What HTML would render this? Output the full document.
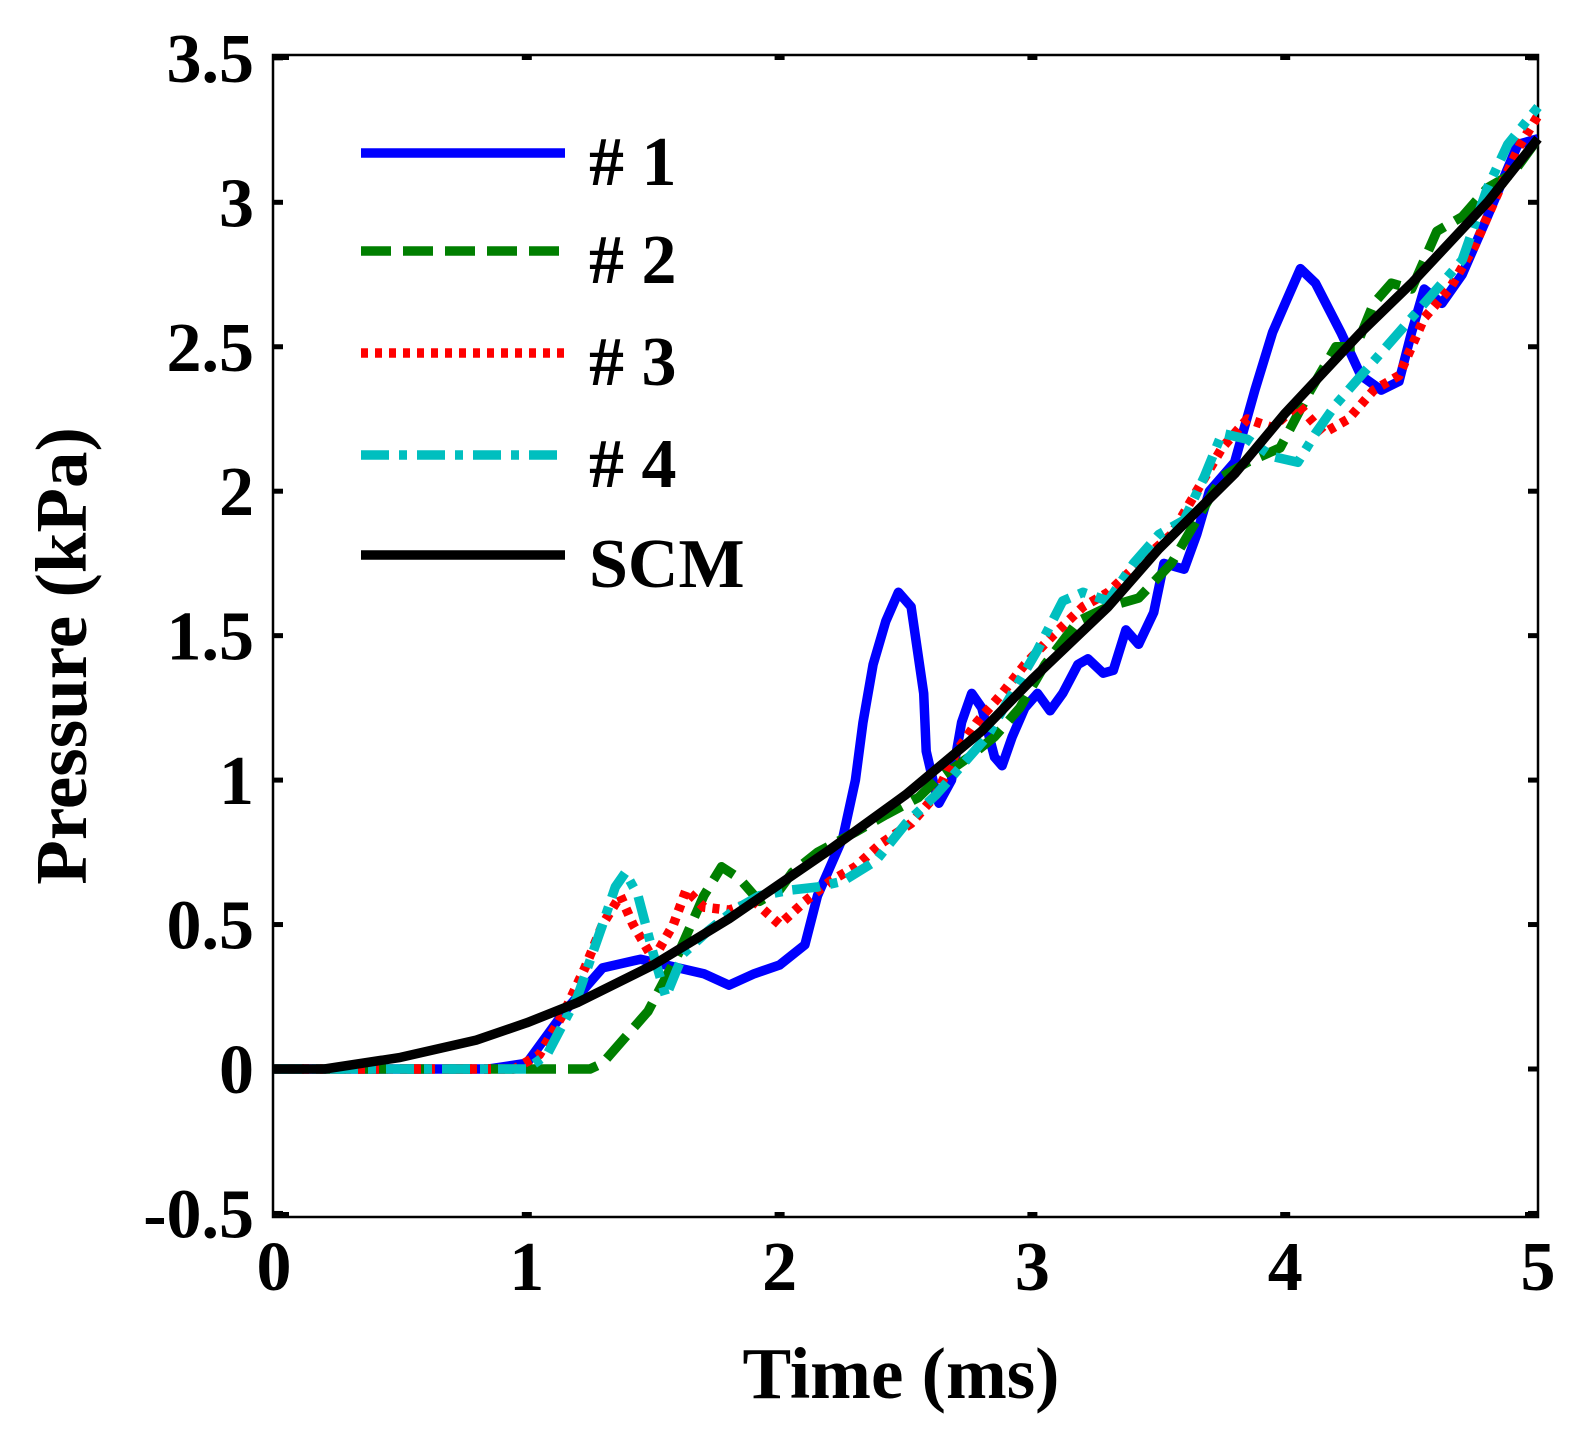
<!DOCTYPE html>
<html><head><meta charset="utf-8"><style>
body{margin:0;background:#fff;}
svg{display:block;font-family:"Liberation Serif",serif;font-weight:bold;}
</style></head><body>
<svg id="chart" width="1588" height="1441" viewBox="0 0 1588 1441" xmlns="http://www.w3.org/2000/svg">
<g id="grid"></g>
<g id="series"></g>
<g id="legend"></g>
</svg>
<script>
const xTicks=[0,1,2,3,4,5];
const yTicks=[-0.5,0,0.5,1,1.5,2,2.5,3,3.5];
const yTickLabels=["-0.5","0","0.5","1","1.5","2","2.5","3","3.5"];
const scmT=[0,0.2,0.5,0.8,1,1.2,1.5,1.8,2,2.2,2.5,2.8,3,3.3,3.5,3.8,4,4.3,4.5,4.8,5];
const scmP=[0,0,0.04,0.1,0.16,0.23,0.36,0.52,0.64,0.76,0.95,1.17,1.35,1.6,1.8,2.06,2.27,2.55,2.72,3.0,3.22];
const s1T=[0,0.85,1.0,1.15,1.3,1.45,1.55,1.7,1.8,1.9,2.0,2.1,2.15,2.25,2.3,2.33,2.37,2.42,2.47,2.52,2.57,2.58,2.62,2.63,2.68,2.72,2.76,2.8,2.85,2.88,2.92,2.97,3.02,3.07,3.12,3.18,3.22,3.28,3.32,3.37,3.42,3.48,3.52,3.6,3.65,3.7,3.8,3.88,3.95,4.0,4.06,4.12,4.22,4.3,4.38,4.45,4.5,4.55,4.62,4.7,4.8,4.92,5];
const s1P=[0,0,0.02,0.2,0.35,0.38,0.36,0.33,0.29,0.33,0.36,0.43,0.6,0.8,1.0,1.2,1.4,1.55,1.65,1.6,1.3,1.1,0.95,0.92,1.0,1.2,1.3,1.25,1.08,1.05,1.15,1.25,1.3,1.24,1.3,1.4,1.42,1.37,1.38,1.52,1.47,1.58,1.75,1.73,1.85,2.0,2.1,2.35,2.55,2.65,2.77,2.72,2.55,2.4,2.35,2.38,2.55,2.7,2.65,2.75,2.95,3.2,3.22];
const s2T=[0,1.25,1.3,1.48,1.6,1.7,1.77,1.84,1.92,2.0,2.05,2.15,2.3,2.42,2.55,2.62,2.75,2.85,2.95,3.05,3.18,3.3,3.42,3.55,3.65,3.75,3.85,3.98,4.1,4.2,4.28,4.35,4.42,4.5,4.6,4.7,4.8,4.9,5];
const s2P=[0,0,0.02,0.2,0.4,0.6,0.7,0.66,0.58,0.62,0.68,0.75,0.82,0.88,0.94,1.0,1.08,1.15,1.25,1.4,1.55,1.6,1.63,1.75,1.9,2.05,2.1,2.15,2.35,2.5,2.5,2.65,2.72,2.7,2.9,2.95,3.05,3.1,3.22];
const s3T=[0,0.95,1.05,1.15,1.23,1.3,1.37,1.42,1.5,1.58,1.63,1.7,1.8,1.9,2.0,2.1,2.2,2.3,2.4,2.52,2.62,2.7,2.78,2.88,2.97,3.08,3.2,3.3,3.42,3.55,3.65,3.75,3.85,3.95,4.05,4.15,4.25,4.35,4.45,4.55,4.65,4.75,4.85,4.93,5];
const s3P=[0,0,0.05,0.2,0.35,0.5,0.6,0.5,0.38,0.5,0.62,0.56,0.55,0.58,0.5,0.58,0.65,0.7,0.78,0.85,0.95,1.1,1.2,1.3,1.4,1.5,1.6,1.65,1.75,1.85,2.0,2.15,2.25,2.22,2.3,2.2,2.25,2.35,2.4,2.6,2.7,2.85,3.05,3.2,3.3];
const s4T=[0,1.0,1.08,1.2,1.3,1.35,1.39,1.44,1.5,1.55,1.62,1.72,1.82,1.92,2.05,2.15,2.25,2.38,2.5,2.62,2.72,2.82,2.92,3.02,3.12,3.2,3.3,3.4,3.5,3.6,3.68,3.75,3.85,3.95,4.05,4.12,4.2,4.3,4.4,4.5,4.6,4.7,4.8,4.88,5];
const s4P=[0,0,0.05,0.25,0.5,0.63,0.68,0.6,0.4,0.25,0.4,0.48,0.55,0.6,0.62,0.63,0.65,0.72,0.85,0.95,1.05,1.15,1.3,1.45,1.62,1.65,1.62,1.75,1.85,1.9,2.05,2.2,2.18,2.12,2.1,2.2,2.3,2.4,2.5,2.6,2.7,2.8,3.05,3.2,3.33];
const legendLabels=["# 1","# 2","# 3","# 4","SCM"];

const NS="http://www.w3.org/2000/svg";
const L=273,R=1538,T=55,B=1217;
const X=t=>274+t*(1538-274)/5;
const Y=p=>1069-p*288.9;
function mk(tag,parent,at){const e=document.createElementNS(NS,tag);for(const k in at)e.setAttribute(k,at[k]);parent.appendChild(e);return e;}
const grid=document.getElementById('grid'),ser=document.getElementById('series'),leg=document.getElementById('legend');
const frame=mk('rect',grid,{x:L,y:T,width:R-L,height:B-T,fill:'none',stroke:'#000','stroke-width':2.5});


xTicks.forEach(v=>{
  const x=X(v);
  const a=mk('rect',grid,{x:x-5+ (v===0?10:0) - (v===5?8:0),y:T,width:10,height:5,fill:'#000'});
  
  
  const b=mk('rect',grid,{x:x-5+(v===0?10:0)-(v===5?8:0),y:B-5,width:10,height:5,fill:'#000'});
  
  
  const t=mk('text',grid,{x:x,y:1290,'font-size':70,'text-anchor':'middle'});
  t.textContent=v;
  
  
});
yTicks.forEach((v,i)=>{
  const y=Y(v);
  const a=mk('rect',grid,{x:L,y:y-2.5,width:10,height:5,fill:'#000'});
  
  
  const b=mk('rect',grid,{x:R-10,y:y-2.5,width:10,height:5,fill:'#000'});
  
  
  const t=mk('text',grid,{x:254,y:y+24,'font-size':70,'text-anchor':'end'});
  t.textContent=yTickLabels[i];
  
  
});
const xl=mk('text',grid,{x:901,y:1398,'font-size':73,'text-anchor':'middle'});
xl.textContent='Time (ms)';


const yl=mk('text',grid,{x:0,y:0,'font-size':73,'text-anchor':'middle',transform:'translate(86,656) rotate(-90)'});
yl.textContent='Pressure (kPa)';



const styles=[
 {c:'#0000ff',d:'none'},
 {c:'#007f00',d:'30 12'},
 {c:'#ff0000',d:'7 7'},
 {c:'#00bfbf',d:'28 10 8 10'},
 {c:'#000000',d:'none'}];
const series=[[s1T,s1P],[s2T,s2P],[s3T,s3P],[s4T,s4P],[scmT,scmP]];
const names=['series-1','series-2','series-3','series-4','series-scm'];
series.forEach((s,i)=>{
  const d=s[0].map((t,j)=>(j?'L':'M')+X(t).toFixed(1)+','+Y(s[1][j]).toFixed(1)).join('');
  const p=mk('path',ser,{d:d,fill:'none',stroke:styles[i].c,'stroke-width':9.5,'stroke-dasharray':styles[i].d,'stroke-linejoin':'round'});
  
  
});
const ly=[153,251,353,455,555];
legendLabels.forEach((lab,i)=>{
  const l=mk('line',leg,{x1:361,x2:565,y1:ly[i],y2:ly[i],stroke:styles[i].c,'stroke-width':9.5,'stroke-dasharray':styles[i].d});
  
  
  const t=mk('text',leg,{x:589,y:ly[i]+32,'font-size':70});
  t.textContent=lab;
  
  
});
</script>
</body></html>
